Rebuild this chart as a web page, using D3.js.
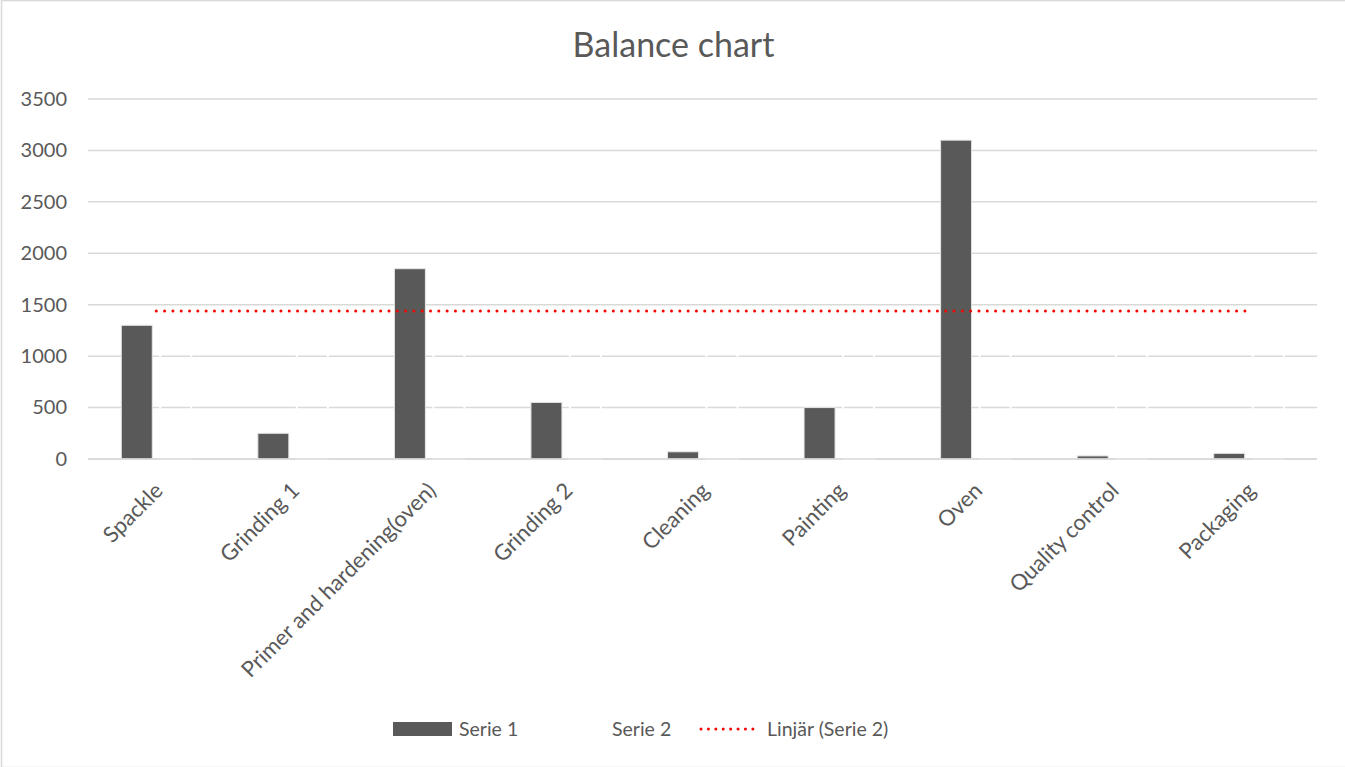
<!DOCTYPE html>
<html>
<head>
<meta charset="utf-8">
<script src="https://cdn.jsdelivr.net/npm/d3@7"></script>
<style>
    body { margin: 0; background: #fff; }
    text { font-family: Lato, "Open Sans", sans-serif; fill: #595959; }
</style>
</head>
<body>
<div id="chart"></div>
<script>
const categories = ["Spackle", "Grinding 1", "Primer and hardening(oven)", "Grinding 2", "Cleaning",
    "Painting", "Oven", "Quality control", "Packaging"];
const serie1 = [1300, 250, 1850, 550, 70, 500, 3100, 30, 55];
const serie2 = [1440, 1440, 1440, 1440, 1440, 1440, 1440, 1440, 1440];
const yTicks = [0, 500, 1000, 1500, 2000, 2500, 3000, 3500];
const legendItems = ["Serie 1", "Serie 2", "Linjär (Serie 2)"];

const width = 1345, height = 767;
const margin = { top: 99, right: 28, bottom: 308, left: 88 };
const plotW = width - margin.left - margin.right;
const plotH = height - margin.top - margin.bottom;

const svg = d3.select("#chart").append("svg")
    .attr("width", width)
    .attr("height", height);

svg.append("rect")
    .attr("x", 1.5).attr("y", 0.5)
    .attr("width", width).attr("height", height)
    .attr("fill", "#fff")
    .attr("stroke", "#d9d9d9")
    .attr("stroke-width", 1.5);

svg.append("text")
    .attr("x", width / 2 + 1)
    .attr("y", 57)
    .attr("text-anchor", "middle")
    .attr("font-size", 34)
    .text("Balance chart");

const g = svg.append("g")
    .attr("transform", "translate(" + margin.left + "," + margin.top + ")");

const x = d3.scaleBand().domain(categories).range([0, plotW]);
const y = d3.scaleLinear().domain([0, 3500]).range([plotH, 0]);

// grid
g.append("g")
    .selectAll("line")
    .data(yTicks)
    .join("line")
    .attr("x1", 0).attr("x2", plotW)
    .attr("y1", d => y(d)).attr("y2", d => y(d))
    .attr("stroke", "#d9d9d9")
    .attr("stroke-width", 1.5);

// y axis labels
g.append("g")
    .call(d3.axisLeft(y).tickValues(yTicks).tickFormat(d3.format("d")).tickSize(0).tickPadding(21))
    .call(a => a.select(".domain").remove())
    .selectAll("text")
    .attr("font-size", 20)
    .style("font-family", "Lato, sans-serif")
    .attr("fill", "#595959");

const barW = 31, gap = 8;
const groupW = barW * 2 + gap;

// serie 2: no fill, white outline (shows only as breaks in the grid)
g.append("g")
    .selectAll("rect")
    .data(serie2)
    .join("rect")
    .attr("x", (d, i) => x(categories[i]) + x.bandwidth() / 2 - groupW / 2 + barW + gap)
    .attr("y", d => y(d))
    .attr("width", barW)
    .attr("height", d => plotH - y(d))
    .attr("fill", "none")
    .attr("stroke", "#fff")
    .attr("stroke-width", 2);

// serie 1
g.append("g")
    .selectAll("rect")
    .data(serie1)
    .join("rect")
    .attr("x", (d, i) => x(categories[i]) + x.bandwidth() / 2 - groupW / 2)
    .attr("y", d => y(d))
    .attr("width", barW)
    .attr("height", d => plotH - y(d))
    .attr("fill", "#595959")
    .attr("stroke", "#e6e6e6")
    .attr("stroke-width", 1);

// baseline
g.append("line")
    .attr("x1", 0).attr("x2", plotW)
    .attr("y1", plotH).attr("y2", plotH)
    .attr("stroke", "#d9d9d9")
    .attr("stroke-width", 1.5);

// linear trend of serie 2
const n = serie2.length;
const xs = d3.range(n);
const mx = d3.mean(xs), my = d3.mean(serie2);
const sxx = d3.sum(xs, v => (v - mx) * (v - mx));
const slope = sxx ? d3.sum(xs, (v, i) => (v - mx) * (serie2[i] - my)) / sxx : 0;
const trend = xs.map(v => my + slope * (v - mx));

g.append("path")
    .datum(trend)
    .attr("d", d3.line()
        .x((d, i) => x(categories[i]) + x.bandwidth() / 2)
        .y(d => y(d)))
    .attr("fill", "none")
    .attr("stroke", "#ff0000")
    .attr("stroke-width", 3)
    .attr("stroke-linecap", "round")
    .attr("stroke-dasharray", "0.01 8.3");

// x axis labels
g.append("g")
    .attr("transform", "translate(0," + plotH + ")")
    .call(d3.axisBottom(x).tickSize(0).tickPadding(0))
    .call(a => a.select(".domain").remove())
    .selectAll("text")
    .attr("font-size", 22)
    .style("font-family", "Lato, sans-serif")
    .attr("fill", "#595959")
    .attr("text-anchor", "end")
    .attr("dy", null)
    .attr("y", 0)
    .attr("transform", "translate(8,33) rotate(-45)");

// legend
const legend = svg.append("g").attr("transform", "translate(0,729)");
legend.append("rect")
    .attr("x", 393).attr("y", -7)
    .attr("width", 59).attr("height", 14)
    .attr("fill", "#595959");
legend.append("line")
    .attr("x1", 701).attr("x2", 760)
    .attr("y1", 0).attr("y2", 0)
    .attr("stroke", "#ff0000")
    .attr("stroke-width", 3)
    .attr("stroke-linecap", "round")
    .attr("stroke-dasharray", "0.01 7.4");
legend.selectAll("text.item")
    .data(legendItems)
    .join("text")
    .attr("class", "item")
    .attr("x", (d, i) => [459, 612, 767][i])
    .attr("y", 7)
    .attr("font-size", 19.5)
    .text(d => d);
</script>
</body>
</html>
